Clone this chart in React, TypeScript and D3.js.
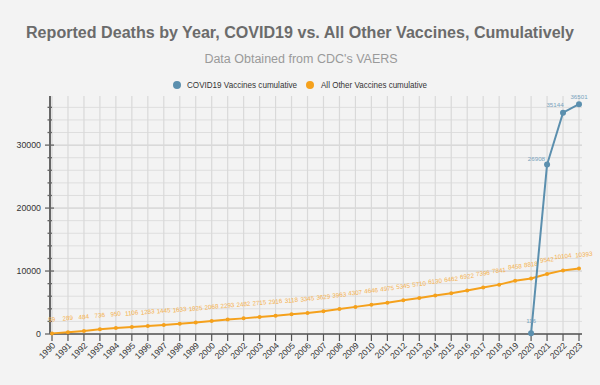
import React from 'react';
import * as d3 from 'd3';

// data
const years = d3.range(1990, 2024);
const otherCumulative = [99, 289, 484, 736, 950, 1106, 1283, 1445, 1633, 1825, 2068, 2293, 2482, 2715, 2916, 3118, 3345, 3629, 3963, 4307, 4646, 4975, 5345, 5710, 6130, 6462, 6922, 7396, 7841, 8458, 8818, 9542, 10104, 10393];
const covidYears = [2020, 2021, 2022, 2023];
const covidCumulative = [116, 26908, 35144, 36501];
const yTickValues = [0, 10000, 20000, 30000];

const W = 600;
const H = 385;
const BLUE = '#5b8fae';
const ORANGE = '#f5a11c';
const FONT = '"Liberation Sans", Arial, sans-serif';

const App = () => {
    const x = d3.scaleLinear().domain([1990, 2023]).range([52, 579]);
    const y = d3.scaleLinear().domain([0, 37800]).range([334, 96]);

    const minorTicks = d3.range(0, 37801, 2000);

    const line = d3.line<[number, number]>().x(d => x(d[0])).y(d => y(d[1]));
    const otherPts: [number, number][] = years.map((yr, i) => [yr, otherCumulative[i]]);
    const covidPts: [number, number][] = covidYears.map((yr, i) => [yr, covidCumulative[i]]);

    // label offsets for the covid series (dx, dy, anchor)
    const covidLabelPos = [
        [0, -10, 'middle'],
        [-2, -4, 'end'],
        [-8, -6, 'middle'],
        [0, -5, 'middle'],
    ];

    return (
        <svg width={W} height={H} style={{ position: 'absolute', left: 0, top: 0, background: '#f3f3f3' }} fontFamily={FONT}>
            <rect width={W} height={H} fill="#f3f3f3" />

            {/* titles */}
            <text x={300} y={38} textAnchor="middle" fontSize={16} fontWeight="bold" fill="#6b6b6b"
                textLength={548} lengthAdjust="spacingAndGlyphs">
                Reported Deaths by Year, COVID19 vs. All Other Vaccines, Cumulatively
            </text>
            <text x={301} y={63} textAnchor="middle" fontSize={12.5} fill="#9a9a9a">
                Data Obtained from CDC's VAERS
            </text>

            {/* legend */}
            <g fontSize={8.6} fill="#333">
                <circle cx={177} cy={85} r={4} fill={BLUE} />
                <text x={187} y={88} textLength={110} lengthAdjust="spacingAndGlyphs">COVID19 Vaccines cumulative</text>
                <circle cx={310} cy={85} r={4} fill={ORANGE} />
                <text x={321} y={88} textLength={106} lengthAdjust="spacingAndGlyphs">All Other Vaccines cumulative</text>
            </g>

            {/* grid */}
            <g>
                {minorTicks.map(t => (
                    <line key={'h' + t} x1={50} x2={582} y1={y(t)} y2={y(t)}
                        stroke={t % 10000 === 0 ? '#c9c9c9' : '#dedede'} strokeWidth={1} />
                ))}
                {years.map(yr => (
                    <line key={'v' + yr} x1={x(yr)} x2={x(yr)} y1={y(37800)} y2={334}
                        stroke="#d9d9d9" strokeWidth={1.2} />
                ))}
            </g>

            {/* y axis */}
            <g>
                <line x1={50} x2={50} y1={y(37800)} y2={334} stroke="#666" strokeWidth={2} />
                {minorTicks.map(t => (
                    <line key={'yt' + t} x1={t % 10000 === 0 ? 45 : 47.5} x2={t % 10000 === 0 ? 54 : 52}
                        y1={y(t)} y2={y(t)} stroke="#666" strokeWidth={1.3} />
                ))}
                {yTickValues.map(t => (
                    <text key={'yl' + t} x={41} y={y(t) + 3} textAnchor="end" fontSize={8.8} fill="#333">{t}</text>
                ))}
            </g>

            {/* x axis */}
            <g>
                <line x1={50} x2={582} y1={334} y2={334} stroke="#555" strokeWidth={1.4} />
                {years.map(yr => (
                    <g key={'xt' + yr}>
                        <line x1={x(yr)} x2={x(yr)} y1={334} y2={341} stroke="#555" strokeWidth={1.2} />
                        <text transform={`translate(${x(yr) + 4},${346}) rotate(-45)`} textAnchor="end"
                            fontSize={8.6} fill="#333">{yr}</text>
                    </g>
                ))}
            </g>

            {/* all other vaccines */}
            <path d={line(otherPts) || ''} fill="none" stroke={ORANGE} strokeWidth={2} />
            {otherPts.map(([yr, v]) => (
                <circle key={'op' + yr} cx={x(yr)} cy={y(v)} r={2} fill={ORANGE} />
            ))}
            {otherPts.map(([yr, v]) => (
                <text key={'ol' + yr} transform={`translate(${x(yr) + (yr === 2023 ? 5 : 0)},${y(v) - 12}) rotate(-6)`}
                    textAnchor="middle" fontSize={6.2} fill="#f4b04a">{v}</text>
            ))}

            {/* covid vaccines */}
            <path d={line(covidPts) || ''} fill="none" stroke={BLUE} strokeWidth={2} />
            {covidPts.map(([yr, v]) => (
                <circle key={'cp' + yr} cx={x(yr)} cy={y(v)} r={3} fill={BLUE} />
            ))}
            {covidPts.map(([yr, v], i) => (
                <text key={'cl' + yr} x={x(yr) + (covidLabelPos[i][0] as number)} y={y(v) + (covidLabelPos[i][1] as number)}
                    textAnchor={covidLabelPos[i][2] as string} fontSize={6.2} fill="#7aa3bd">{v}</text>
            ))}
        </svg>
    );
};

export default App;
